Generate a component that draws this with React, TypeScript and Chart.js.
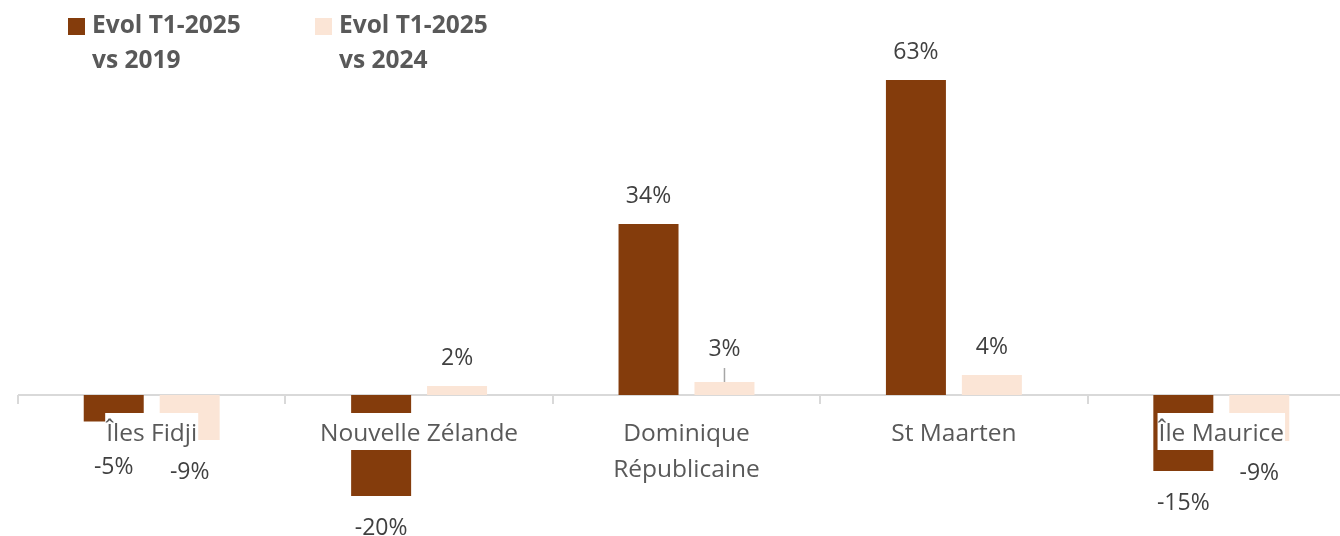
import React, { useEffect, useRef } from "react";
import { Chart, registerables } from "chart.js";

Chart.register(...registerables);

const categories: string[][] = [
  ["Îles Fidji"],
  ["Nouvelle Zélande"],
  ["Dominique", "Républicaine"],
  ["St Maarten"],
  ["Île Maurice"],
];
const evolVs2019 = [-5.3, -20.2, 34.2, 63, -15.2];
const evolVs2024 = [-9, 1.8, 2.6, 4, -9.2];
const seriesNames: string[][] = [
  ["Evol T1-2025", "vs 2019"],
  ["Evol T1-2025", "vs 2024"],
];
const seriesColors = ["#843C0C", "#FBE5D6"];
// labels pulled up with a leader line: [datasetIndex, pointIndex]
const leaderLabels: number[][] = [[1, 2]];

const FONT = "'Open Sans', sans-serif";

const overlayPlugin = {
  id: "overlay",
  beforeDatasetsDraw(chart: any) {
    const { ctx, chartArea, scales } = chart;
    const y0 = scales.y.getPixelForValue(0);
    const n = categories.length;
    const w = (chartArea.right - chartArea.left) / n;
    ctx.save();
    ctx.strokeStyle = "#D9D9D9";
    ctx.lineWidth = 2;
    ctx.beginPath();
    ctx.moveTo(chartArea.left, y0);
    ctx.lineTo(chartArea.right, y0);
    for (let i = 0; i <= n; i++) {
      const x = Math.round(chartArea.left + i * w);
      ctx.moveTo(x, y0);
      ctx.lineTo(x, y0 + 9);
    }
    ctx.stroke();
    ctx.restore();
  },
  afterDatasetsDraw(chart: any) {
    const { ctx, scales } = chart;
    const y0 = scales.y.getPixelForValue(0);
    ctx.save();
    // data labels
    ctx.font = `23px ${FONT}`;
    ctx.fillStyle = "#404040";
    ctx.textAlign = "center";
    ctx.textBaseline = "middle";
    chart.data.datasets.forEach((ds: any, di: number) => {
      const meta = chart.getDatasetMeta(di);
      meta.data.forEach((bar: any, i: number) => {
        const v = ds.data[i];
        const txt = `${Math.round(v)}%`;
        let y: number;
        if (v >= 0) {
          y = bar.y - 28;
          const needsLeader = leaderLabels.some((p) => p[0] === di && p[1] === i);
          if (needsLeader) {
            y = bar.y - 33;
            ctx.save();
            ctx.strokeStyle = "#A6A6A6";
            ctx.lineWidth = 1.5;
            ctx.beginPath();
            ctx.moveTo(bar.x, y + 19);
            ctx.lineTo(bar.x, bar.y);
            ctx.stroke();
            ctx.restore();
          }
        } else {
          y = Math.max(bar.y + 32, y0 + 72);
        }
        ctx.fillText(txt, bar.x, y);
      });
    });
    // category labels with white backdrop
    ctx.font = `24.5px ${FONT}`;
    categories.forEach((lines, i) => {
      const cx = scales.x.getPixelForValue(i);
      const lh = 36;
      const tw = Math.max(...lines.map((l) => ctx.measureText(l).width));
      const top = y0 + 18;
      ctx.fillStyle = "#FFFFFF";
      ctx.fillRect(cx - tw / 2 - 1, top, tw + 2, lines.length * lh + 1);
      ctx.fillStyle = "#595959";
      lines.forEach((l, k) => {
        ctx.fillText(l, cx, top + 21 + k * lh);
      });
    });
    // legend
    const legendX = [68, 315];
    ctx.font = `bold 24.5px ${FONT}`;
    ctx.textAlign = "left";
    ctx.textBaseline = "alphabetic";
    seriesNames.forEach((lines, k) => {
      const x = legendX[k];
      ctx.fillStyle = seriesColors[k];
      ctx.fillRect(x, 18, 17, 17);
      ctx.fillStyle = "#595959";
      lines.forEach((l, j) => {
        ctx.fillText(l, x + 24, 33 + j * 35);
      });
    });
    ctx.restore();
  },
};

export default function App() {
  const ref = useRef<HTMLCanvasElement | null>(null);
  useEffect(() => {
    if (!ref.current) return;
    const chart = new Chart(ref.current, {
      type: "bar",
      data: {
        labels: categories,
        datasets: [
          {
            label: seriesNames[0].join(" "),
            data: evolVs2019,
            backgroundColor: seriesColors[0],
            borderWidth: 0,
            categoryPercentage: 0.568,
            barPercentage: 0.79,
          },
          {
            label: seriesNames[1].join(" "),
            data: evolVs2024,
            backgroundColor: seriesColors[1],
            borderWidth: 0,
            categoryPercentage: 0.568,
            barPercentage: 0.79,
          },
        ],
      },
      options: {
        responsive: false,
        animation: false,
        devicePixelRatio: 1,
        layout: { padding: { left: 18, right: 5, top: 45, bottom: 16 } },
        scales: {
          x: { display: false },
          y: { display: false, min: -25, max: 70 },
        },
        plugins: {
          legend: { display: false },
          tooltip: { enabled: false },
        },
      },
      plugins: [overlayPlugin],
    });
    return () => chart.destroy();
  }, []);
  return (
    <div style={{ position: "fixed", left: 0, top: 0, width: 1340, height: 536, overflow: "hidden", background: "#fff" }}>
      <canvas ref={ref} width={1360} height={536} style={{ width: 1360, height: 536 }} />
    </div>
  );
}
